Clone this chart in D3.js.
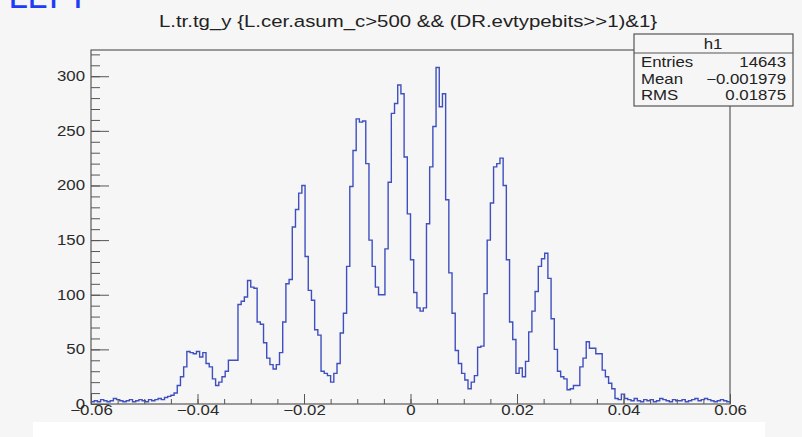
<!DOCTYPE html>
<html>
<head>
<meta charset="utf-8">
<script src="https://cdn.jsdelivr.net/npm/d3@7/dist/d3.min.js"></script>
<style>
  html, body { margin: 0; padding: 0; background: #f6f6f6; }
  svg { display: block; }
  .axis text { font-family: "Liberation Sans", Arial, sans-serif; font-size: 14px; fill: #2a2a2a; }
  .axis path { display: none; }
  .axis line { stroke: #555; stroke-width: 1; }
</style>
</head>
<body>
<script>
// histogram h1: 200 bins from -0.06 to 0.06
var xMin = -0.06, xMax = 0.06, nBins = 200;
var counts = [
  2, 3, 2, 4, 3, 2, 3, 5, 4, 3, 2, 3, 4, 2, 3, 4, 3, 2, 4, 3, 4, 5, 4, 6,
  7, 8, 10, 17, 25, 34, 48, 47, 46, 48, 43, 47, 37, 34, 23, 17, 20, 25, 30, 40, 40,
  40, 91, 94, 98, 113, 107, 106, 75, 73, 56, 42, 36, 32, 36, 47, 75, 110, 114, 162, 178, 193, 200,
  135, 104, 95, 68, 63, 30, 28, 26, 20, 28, 37, 65, 83, 126, 199, 232, 261, 258, 259, 220,
  150, 126, 107, 100, 100, 142, 203, 266, 275, 292, 284, 226, 174, 132,
  102, 88, 85, 88, 165, 217, 254, 308, 272, 284, 187, 120, 83, 49, 37, 28, 22, 14, 20, 26,
  52, 53, 101, 150, 184, 217, 220, 225, 200, 132,
  75, 59, 28, 33, 25, 39, 66, 85, 103, 126, 133, 138, 115, 78, 50, 30, 25, 23, 13, 14,
  17, 17, 34, 42, 57, 51, 51, 46, 46, 31, 25, 19, 14, 5, 4, 9, 5,
  4, 3, 5, 3, 2, 4, 3, 4, 2, 3, 5, 4, 3, 2, 4, 3, 3, 4, 2, 3, 4, 5, 3, 4, 5, 4, 3, 2, 3, 4, 3, 2
];

var xTickValues = [-0.06, -0.04, -0.02, 0, 0.02, 0.04, 0.06];
var xTickLabels = ["\u22120.06", "\u22120.04", "\u22120.02", "0", "0.02", "0.04", "0.06"];
var yTickValues = [0, 50, 100, 150, 200, 250, 300];
var yTickLabels = ["0", "50", "100", "150", "200", "250", "300"];

var titleText = "L.tr.tg_y {L.cer.asum_c>500 && (DR.evtypebits>>1)&1}";
var statsTitle = "h1";
var statsNames = ["Entries", "Mean", "RMS"];
var statsValues = ["14643", "\u22120.001979", "0.01875"];

var svgWidth = 802, svgHeight = 437;
var padLeft = 91, padRight = 730, padTop = 50, padBottom = 404;
var yMax = 324;
var stretch = 1.2; // text in the photo is a bit wider than the font

var svg = d3.select("body").append("svg")
    .attr("width", svgWidth)
    .attr("height", svgHeight);

svg.append("rect")
    .attr("width", svgWidth).attr("height", svgHeight)
    .attr("fill", "#f6f6f6");

// white strip at the bottom of the photo
svg.append("rect")
    .attr("x", 33).attr("y", 422)
    .attr("width", 732).attr("height", 15)
    .attr("fill", "#ffffff");

// cut-off label in the corner
svg.append("text")
    .attr("x", 8).attr("y", 8)
    .style("font-family", "DejaVu Sans, sans-serif")
    .style("font-size", "34px")
    .style("fill", "#1f3cf5")
    .text("LEFT");

var xScale = d3.scaleLinear().domain([xMin, xMax]).range([padLeft, padRight]);
var yScale = d3.scaleLinear().domain([0, yMax]).range([padBottom, padTop]);

// frame
svg.append("rect")
    .attr("x", padLeft).attr("y", padTop)
    .attr("width", padRight - padLeft).attr("height", padBottom - padTop)
    .attr("fill", "none")
    .attr("stroke", "#5a5a5a")
    .attr("stroke-width", 1.2);

// histogram outline
var binWidth = (xMax - xMin) / nBins;
var steps = counts.map(function(c, i) { return [xMin + i * binWidth, c]; });
steps.push([xMax, counts[counts.length - 1]]);

var line = d3.line()
    .x(function(d) { return xScale(d[0]); })
    .y(function(d) { return yScale(d[1]); })
    .curve(d3.curveStepAfter);

svg.append("path")
    .datum(steps)
    .attr("d", line)
    .attr("fill", "none")
    .attr("stroke", "#3f4fc0")
    .attr("stroke-width", 1.4);

// x axis (ticks point up into the frame)
svg.append("g")
    .attr("class", "axis")
    .attr("transform", "translate(0," + padBottom + ")")
    .call(d3.axisBottom(xScale).tickValues(d3.range(-0.06, 0.0601, 0.005)).tickSize(-5).tickFormat(""));

svg.append("g")
    .attr("class", "axis")
    .attr("transform", "translate(0," + padBottom + ")")
    .call(d3.axisBottom(xScale)
        .tickValues(xTickValues)
        .tickSize(-10)
        .tickPadding(1)
        .tickFormat(function(d, i) { return xTickLabels[i]; }))
    .selectAll("text")
    .attr("transform", "scale(" + stretch + ",1)");

// y axis (ticks point right into the frame)
svg.append("g")
    .attr("class", "axis")
    .attr("transform", "translate(" + padLeft + ",0)")
    .call(d3.axisLeft(yScale).tickValues(d3.range(0, 321, 10)).tickSize(-9).tickFormat(""));

svg.append("g")
    .attr("class", "axis")
    .attr("transform", "translate(" + padLeft + ",0)")
    .call(d3.axisLeft(yScale)
        .tickValues(yTickValues)
        .tickSize(-18)
        .tickPadding(5)
        .tickFormat(function(d, i) { return yTickLabels[i]; }))
    .selectAll("text")
    .attr("transform", "scale(" + stretch + ",1)");

function wideText(parent, x, y, size, anchor, str) {
  return parent.append("text")
      .attr("transform", "translate(" + x + "," + y + ") scale(" + stretch + ",1)")
      .attr("text-anchor", anchor)
      .style("font-family", "Liberation Sans, Arial, sans-serif")
      .style("font-size", size + "px")
      .style("fill", "#222")
      .text(str);
}

// title
wideText(svg, 408, 27, 17, "middle", titleText);

// stats box
var box = svg.append("g");
box.append("rect")
    .attr("x", 634).attr("y", 34)
    .attr("width", 159).attr("height", 72)
    .attr("fill", "#f6f6f6")
    .attr("stroke", "#555")
    .attr("stroke-width", 1.2);
box.append("line")
    .attr("x1", 634).attr("x2", 793)
    .attr("y1", 53).attr("y2", 53)
    .attr("stroke", "#555");
wideText(box, 713, 49, 14, "middle", statsTitle);

statsNames.forEach(function(name, i) {
  var yy = 67 + i * 16.5;
  wideText(box, 641, yy, 14, "start", name);
  wideText(box, 786, yy, 14, "end", statsValues[i]);
});
</script>
</body>
</html>
